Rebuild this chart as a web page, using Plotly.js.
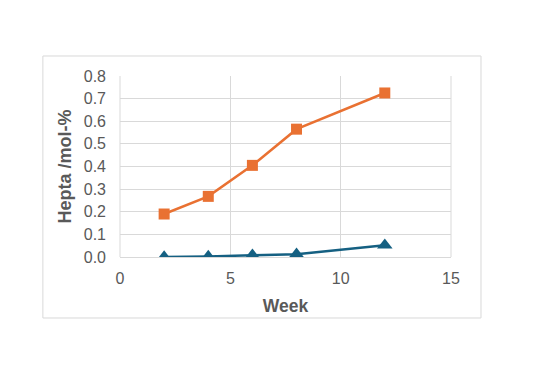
<!DOCTYPE html>
<html><head><meta charset="utf-8">
<script src="https://cdn.plot.ly/plotly-3.0.1.min.js"></script>
<style>html,body{margin:0;padding:0;background:#fff;}#chart{width:538px;height:380px;}</style>
</head><body><div id="chart"></div>
<script>
const weeks = [2, 4, 6, 8, 12];
const seriesOrange = [0.19, 0.268, 0.405, 0.565, 0.725];
const seriesBlue = [0.0, 0.002, 0.008, 0.012, 0.052];
const xTicks = [0, 5, 10, 15];
const yTicks = [0, 0.1, 0.2, 0.3, 0.4, 0.5, 0.6, 0.7, 0.8];

const font = "Liberation Sans, Arial, sans-serif";
const traces = [
  {x: weeks, y: seriesOrange, mode: 'lines+markers', type: 'scatter',
   line: {color: '#E97132', width: 2.5}, marker: {symbol: 'square', size: 11, color: '#E97132'}},
  {x: weeks, y: seriesBlue, mode: 'lines+markers', type: 'scatter',
   line: {color: '#156082', width: 2.5}, marker: {symbol: 'triangle-up', size: 13.5, color: '#156082'}}
];
const layout = {
  width: 538, height: 380,
  margin: {l: 120, r: 87, t: 76, b: 123},
  showlegend: false,
  paper_bgcolor: '#fff', plot_bgcolor: '#fff',
  font: {family: font, color: '#595959', size: 16},
  xaxis: {range: [0, 15], tickvals: xTicks, showgrid: true, gridcolor: '#d9d9d9', gridwidth: 1,
          zeroline: false, showline: true, linecolor: '#d9d9d9', mirror: false,
          ticks: '', ticklen: 0, ticklabelstandoff: 7, tickfont: {size: 16, color: '#595959'},
          title: {text: '<b>Week</b>', font: {size: 17.5, color: '#595959'}, standoff: 13}},
  yaxis: {range: [0, 0.8], tickvals: yTicks, tickformat: '.1f', showgrid: true, gridcolor: '#d9d9d9',
          zeroline: false, showline: false, ticks: '', ticklabelstandoff: 13, tickfont: {size: 16, color: '#595959'},
          title: {text: '<b>Hepta /mol-%</b>', font: {size: 18, color: '#595959'}, standoff: 7}},
  shapes: [
    {type: 'rect', xref: 'paper', yref: 'paper', x0: -0.233, x1: 1.0906, y0: -0.337, y1: 1.1105,
     line: {color: '#d9d9d9', width: 1}, fillcolor: 'rgba(0,0,0,0)', layer: 'below'},
    {type: 'line', xref: 'paper', yref: 'paper', x0: 1, x1: 1, y0: 0, y1: 1, line: {color: '#d9d9d9', width: 1}, layer: 'below'},
    {type: 'line', xref: 'paper', yref: 'paper', x0: 0, x1: 0, y0: 0, y1: 1, line: {color: '#d9d9d9', width: 1}, layer: 'below'}
  ]
};
Plotly.newPlot('chart', traces, layout, {displayModeBar: false, staticPlot: true});
</script></body></html>
